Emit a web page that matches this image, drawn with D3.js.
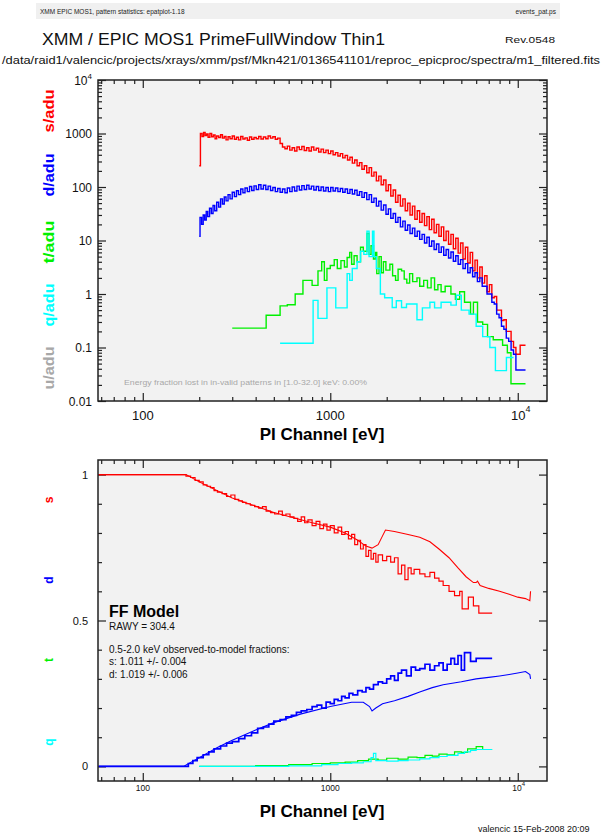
<!DOCTYPE html>
<html>
<head>
<meta charset="utf-8">
<script src="https://cdn.jsdelivr.net/npm/d3@7"></script>
<style>
body { margin: 0; background: #fff; }
svg { display: block; font-family: "Liberation Sans", Arial, sans-serif; }
</style>
</head>
<body>
<script>
// ---- top panel: counts per adu, [energy eV, value] ----
const sTop = [
[200,250],[203,1000],[207,880],[211,1050],[215,920],[219,980],[223,850],[228,1000],[233,870],[238,940],[243,800],[248,900],[254,840],[260,950],[266,820],[272,880],[278,760],[285,870],[292,800],[300,900],[308,780],[316,850],[324,760],[333,880],[342,790],[351,830],[361,750],[371,860],[381,780],[392,840],[403,800],[415,880],[427,790],[440,860],[453,800],[466,900],[480,820],[494,870],[509,780],[524,820],[540,650],[556,560],[573,520],[590,580],[608,490],[626,540],[645,470],[664,560],[684,500],[705,570],[726,480],[748,540],[770,470],[793,560],[817,490],[842,530],[867,450],[893,510],[920,440],[948,490],[976,420],[1005,470],[1035,400],[1066,440],[1098,380],[1131,420],[1165,350],[1200,390],[1236,320],[1273,360],[1311,280],[1350,320],[1390,250],[1432,285],[1475,215],[1519,250],[1565,185],[1612,230],[1660,160],[1710,190],[1761,130],[1814,160],[1868,110],[1924,135],[1982,85],[2041,110],[2102,68],[2165,88],[2230,52],[2297,70],[2366,44],[2437,60],[2510,36],[2585,50],[2663,30],[2743,44],[2825,25],[2910,36],[2997,22],[3087,32],[3180,19],[3275,28],[3373,16],[3474,25],[3578,14],[3686,20],[3796,12],[3910,18],[4028,10],[4148,15],[4273,8.5],[4401,13],[4533,7],[4669,11],[4809,5.8],[4953,9],[5102,4.5],[5255,7.5],[5412,3.8],[5575,6],[5742,2.7],[5914,4.3],[6091,2.0],[6274,3.2],[6462,1.6],[6656,2.2],[6856,1.1],[7062,1.5],[7273,0.85],[7491,0.9],[7716,0.5],[7948,0.5],[8186,0.32],[8432,0.33],[8685,0.2],[8945,0.2],[9214,0.13],[9490,0.1],[9775,0.075],[10300,0.11],[11000,0.11]
]

const dTop = [
[200,12],[202,27],[206,20],[210,30],[214,24],[218,35],[222,28],[227,40],[232,32],[237,45],[242,36],[248,52],[254,42],[260,60],[266,48],[272,65],[278,55],[285,72],[292,60],[300,80],[308,66],[316,85],[324,72],[333,92],[342,78],[351,96],[361,82],[371,102],[381,86],[392,105],[403,90],[415,110],[427,92],[440,108],[453,90],[466,104],[480,86],[494,98],[509,82],[524,94],[540,80],[556,92],[573,78],[590,96],[608,82],[626,100],[645,84],[664,104],[684,88],[705,106],[726,90],[748,108],[770,92],[793,104],[817,88],[842,102],[867,86],[893,100],[920,84],[948,98],[976,82],[1005,98],[1035,84],[1066,96],[1098,82],[1131,94],[1165,80],[1200,92],[1236,76],[1273,90],[1311,74],[1350,87],[1390,70],[1432,82],[1475,64],[1519,78],[1565,58],[1612,72],[1660,52],[1710,62],[1761,44],[1814,54],[1868,37],[1924,46],[1982,31],[2041,39],[2102,26],[2165,32],[2230,22],[2297,27],[2366,18],[2437,23],[2510,15.5],[2585,19.5],[2663,13.5],[2743,17],[2825,12],[2910,15],[2997,10.5],[3087,13],[3180,9],[3275,11.5],[3373,7.8],[3474,9.8],[3578,6.8],[3686,8.6],[3796,6],[3910,7.6],[4028,5.3],[4148,6.8],[4273,4.7],[4401,6.1],[4533,4.1],[4669,5.2],[4809,3.6],[4953,4.4],[5102,3.0],[5255,3.7],[5412,2.5],[5575,3.1],[5742,2.1],[5914,2.5],[6091,1.7],[6274,2.0],[6462,1.4],[6656,1.4],[6856,1.0],[7062,1.0],[7273,0.7],[7491,0.65],[7716,0.42],[7948,0.36],[8186,0.25],[8432,0.22],[8685,0.15],[8945,0.13],[9214,0.09],[9490,0.075],[9775,0.038],[11000,0.038]
]

const tTop = [
[300,0.23],[455,0.4],[540,0.6],[590,0.63],[650,1.0],[715,1.8],[800,1.45],[860,2.7],[900,4.0],[930,1.8],[960,3.0],[1000,3.4],[1050,4.4],[1090,3.0],[1140,4.2],[1190,3.2],[1230,4.8],[1270,6],[1300,3.6],[1340,5.2],[1390,4.0],[1450,7.5],[1500,6.3],[1570,13.5],[1610,5.5],[1650,8],[1700,4.5],[1740,6],[1770,2.4],[1820,5],[1870,2.5],[1920,4],[1980,2.8],[2080,3.6],[2150,2.2],[2230,1.8],[2300,2.9],[2400,2.7],[2480,1.9],[2560,1.6],[2650,2.4],[2750,1.7],[2900,2.0],[3000,1.4],[3150,1.8],[3300,1.3],[3450,2.0],[3600,1.2],[3750,1.5],[3900,1.1],[4100,1.4],[4400,1.0],[4650,0.8],[4900,1.1],[5200,0.7],[5600,0.42],[5800,0.7],[6100,0.3],[6500,0.27],[6900,0.16],[7400,0.14],[8300,0.11],[8800,0.08],[9200,0.021],[11000,0.021]
]

const qTop = [
[540,0.12],[810,0.76],[860,0.35],[960,1.3],[1070,0.55],[1150,0.55],[1230,2.4],[1270,1.8],[1310,3],[1390,4],[1450,6.3],[1510,5.5],[1570,15],[1610,5],[1680,15],[1710,5],[1760,3],[1850,1.0],[1950,0.85],[2140,0.56],[2250,0.75],[2400,0.56],[2550,0.65],[2900,0.33],[3100,0.55],[3400,0.7],[3600,0.55],[3900,0.7],[4400,0.62],[4700,0.95],[5000,0.5],[5500,0.42],[6000,0.25],[6500,0.16],[7100,0.1],[7600,0.037],[8700,0.065],[9500,0.065]
]

// ---- bottom panel: pattern fractions ----
const sObs = [
[58,1.0],[160,1.0],[170,0.995],[180,0.99],[190,0.98],[200,0.975],[210,0.965],[220,0.96],[230,0.955],[240,0.945],[250,0.94],[265,0.935],[280,0.925],[295,0.93],[310,0.915],[325,0.91],[340,0.905],[355,0.9],[375,0.895],[395,0.89],[415,0.885],[435,0.89],[455,0.875],[480,0.87],[505,0.865],[530,0.875],[555,0.86],[580,0.865],[610,0.855],[640,0.85],[670,0.84],[700,0.855],[730,0.835],[760,0.845],[800,0.825],[840,0.84],[880,0.815],[920,0.83],[960,0.81],[1000,0.825],[1050,0.8],[1100,0.82],[1150,0.795],[1200,0.805],[1250,0.78],[1300,0.795],[1350,0.76],[1400,0.775],[1450,0.745],[1500,0.76],[1550,0.72],[1600,0.74],[1650,0.71],[1700,0.73],[1750,0.7],[1800,0.725],[1900,0.705],[2000,0.72],[2100,0.7],[2200,0.715],[2300,0.66],[2400,0.69],[2500,0.64],[2600,0.68],[2700,0.66],[2800,0.675],[3000,0.66],[3200,0.65],[3400,0.665],[3600,0.645],[3800,0.635],[4000,0.62],[4300,0.6],[4600,0.585],[4900,0.6],[5050,0.54],[5300,0.54],[5450,0.58],[5800,0.55],[6200,0.525],[7300,0.525]
]
const sModel = [
[58,1.0],[170,1.0],[200,0.975],[300,0.92],[500,0.87],[800,0.835],[1000,0.82],[1200,0.8],[1400,0.775],[1550,0.755],[1670,0.748],[1800,0.76],[1900,0.79],[1970,0.81],[2200,0.805],[2600,0.795],[3000,0.785],[3400,0.77],[3800,0.745],[4300,0.715],[4800,0.68],[5300,0.65],[5800,0.63],[6000,0.63],[6100,0.635],[6300,0.62],[7000,0.61],[8000,0.6],[9000,0.59],[10000,0.58],[11000,0.575],[11600,0.568],[11700,0.6]
]
const dObs = [
[58,0],[165,0],[175,0.01],[185,0.02],[195,0.03],[210,0.04],[225,0.05],[240,0.06],[260,0.07],[280,0.08],[300,0.085],[325,0.095],[350,0.105],[380,0.115],[410,0.13],[440,0.135],[470,0.145],[500,0.155],[540,0.16],[580,0.17],[620,0.175],[660,0.185],[700,0.19],[750,0.195],[800,0.205],[850,0.21],[900,0.2],[950,0.22],[1000,0.215],[1050,0.23],[1100,0.225],[1150,0.24],[1200,0.235],[1260,0.25],[1320,0.245],[1400,0.26],[1480,0.255],[1550,0.27],[1620,0.265],[1700,0.28],[1800,0.29],[1900,0.285],[2000,0.3],[2100,0.31],[2200,0.295],[2300,0.32],[2400,0.33],[2550,0.31],[2700,0.34],[2850,0.33],[3000,0.335],[3200,0.35],[3400,0.33],[3600,0.345],[3800,0.355],[4000,0.33],[4200,0.35],[4400,0.37],[4600,0.35],[4800,0.38],[5000,0.33],[5200,0.39],[5600,0.36],[6000,0.37],[7300,0.37]
]
const dModel = [
[58,0],[165,0],[200,0.03],[250,0.065],[300,0.09],[400,0.125],[500,0.15],[700,0.18],[1000,0.205],[1300,0.22],[1500,0.22],[1620,0.205],[1670,0.19],[1750,0.2],[1900,0.215],[2200,0.225],[2600,0.24],[3000,0.255],[3500,0.27],[4000,0.28],[5000,0.29],[6000,0.3],[7000,0.305],[8000,0.31],[9000,0.315],[10000,0.32],[11000,0.325],[11600,0.315],[11700,0.3]
]
const tObs = [
[200,0],[400,0.003],[600,0.006],[800,0.01],[1000,0.012],[1200,0.015],[1400,0.02],[1600,0.025],[1800,0.022],[2000,0.028],[2300,0.025],[2600,0.032],[2900,0.03],[3200,0.038],[3500,0.035],[3800,0.042],[4200,0.04],[4600,0.05],[5000,0.048],[5400,0.06],[6000,0.068],[6500,0.058],[7300,0.058]
]
const qObs = [
[200,0],[600,0.002],[900,0.006],[1100,0.01],[1300,0.012],[1500,0.016],[1650,0.03],[1700,0.045],[1750,0.02],[2000,0.018],[2300,0.02],[2600,0.022],[3000,0.026],[3400,0.03],[3800,0.034],[4200,0.038],[4800,0.045],[5200,0.05],[5600,0.055],[6000,0.058],[7300,0.058]
]

const xMajor = [100, 1000, 10000]
const yTopMajor = [0.01, 0.1, 1, 10, 100, 1000, 10000]
const yTopLabels = ['0.01', '0.1', '1', '10', '100', '1000', '']
const yBotMajor = [0, 0.5, 1]
const yBotLabels = ['0', '0.5', '1']

const W = 603, H = 838
const svg = d3.select('body').append('svg').attr('width', W).attr('height', H)

const boxA = {x0: 98, x1: 547, y0: 80, y1: 401}
const boxB = {x0: 98, x1: 547, y0: 460, y1: 781}

const xTop = d3.scaleLog().domain([57.7, 14320]).range([boxA.x0, boxA.x1])
const yTop = d3.scaleLog().domain([0.01, 1e4]).range([boxA.y1, boxA.y0])
const xBot = d3.scaleLog().domain([57.7, 14320]).range([boxB.x0, boxB.x1])
const yBot = d3.scaleLinear().domain([-0.05, 1.05]).range([boxB.y1, boxB.y0])

// ---- header ----
svg.append('rect').attr('x', 36).attr('y', 3).attr('width', 524).attr('height', 16).attr('fill', '#f0f0f0')
svg.append('text').attr('x', 40).attr('y', 13.5).attr('font-size', 6.5).attr('fill', '#222')
    .text('XMM EPIC MOS1, pattern statistics: epatplot-1.18')
svg.append('text').attr('x', 556).attr('y', 13.5).attr('font-size', 6.5).attr('fill', '#222')
    .attr('text-anchor', 'end').text('events_pat.ps')
svg.append('text').attr('x', 42).attr('y', 45).attr('font-size', 17).attr('fill', '#111')
    .attr('textLength', 343).attr('lengthAdjust', 'spacingAndGlyphs')
    .text('XMM / EPIC MOS1 PrimeFullWindow Thin1')
svg.append('text').attr('x', 505).attr('y', 43).attr('font-size', 9).attr('fill', '#111')
    .attr('textLength', 50).attr('lengthAdjust', 'spacingAndGlyphs').text('Rev.0548')
svg.append('text').attr('x', 2).attr('y', 64).attr('font-size', 10).attr('fill', '#111')
    .attr('textLength', 598).attr('lengthAdjust', 'spacingAndGlyphs')
    .text('/data/raid1/valencic/projects/xrays/xmm/psf/Mkn421/0136541101/reproc_epicproc/spectra/m1_filtered.fits')

function panel(box, x, y, yMinor, yMajorVals, clipId) {
    let g = svg.append('g')
    g.append('rect').attr('x', box.x0).attr('y', box.y0)
        .attr('width', box.x1 - box.x0).attr('height', box.y1 - box.y0).attr('fill', '#f2f2f2')

    svg.append('clipPath').attr('id', clipId).append('rect')
        .attr('x', box.x0).attr('y', box.y0).attr('width', box.x1 - box.x0).attr('height', box.y1 - box.y0)

    let xMinor = x.ticks().filter(v => xMajor.indexOf(v) < 0)
    let axes = [
        [d3.axisBottom(x), 0, box.y1, xMinor, xMajor],
        [d3.axisTop(x), 0, box.y0, xMinor, xMajor],
        [d3.axisLeft(y), box.x0, 0, yMinor, yMajorVals],
        [d3.axisRight(y), box.x1, 0, yMinor, yMajorVals]
    ]
    axes.forEach(a => {
        g.append('g').attr('transform', `translate(${a[1]},${a[2]})`)
            .call(a[0].tickValues(a[3]).tickSize(-4).tickFormat(''))
        g.append('g').attr('transform', `translate(${a[1]},${a[2]})`)
            .call(a[0].tickValues(a[4]).tickSize(-8).tickFormat(''))
    })
    g.selectAll('.domain').remove()
    g.selectAll('.tick line').attr('stroke', '#222').attr('stroke-width', 1.2)
    return g
}

function series(g, data, x, y, color, width, curve, clipId) {
    let line = d3.line().x(d => x(d[0])).y(d => y(d[1])).curve(curve)
    g.append('path').attr('d', line(data)).attr('fill', 'none')
        .attr('stroke', color).attr('stroke-width', width)
        .attr('stroke-linejoin', 'miter').attr('clip-path', `url(#${clipId})`)
}

// ---- top panel ----
let gA = panel(boxA, xTop, yTop, yTop.ticks().filter(v => yTopMajor.indexOf(v) < 0), yTopMajor, 'clipA')
series(gA, sTop, xTop, yTop, '#ff0000', 1.4, d3.curveStepAfter, 'clipA')
series(gA, dTop, xTop, yTop, '#0000ff', 1.4, d3.curveStepAfter, 'clipA')
series(gA, tTop, xTop, yTop, '#00f000', 1.4, d3.curveStepAfter, 'clipA')
series(gA, qTop, xTop, yTop, '#00ffff', 1.4, d3.curveStepAfter, 'clipA')
gA.append('rect').attr('x', boxA.x0).attr('y', boxA.y0).attr('width', boxA.x1 - boxA.x0)
    .attr('height', boxA.y1 - boxA.y0).attr('fill', 'none').attr('stroke', '#222').attr('stroke-width', 1.5)

yTopMajor.forEach((v, i) => {
    let t = gA.append('text').attr('x', 92).attr('y', yTop(v) + 4.5).attr('font-size', 12)
        .attr('text-anchor', 'end').attr('fill', '#111')
    if (v === 10000) {
        t.text('10')
        t.append('tspan').attr('font-size', 8).attr('dy', -6).text('4')
    } else {
        t.text(yTopLabels[i])
    }
})
xMajor.forEach(v => {
    let t = gA.append('text').attr('x', xTop(v)).attr('y', 420).attr('font-size', 13)
        .attr('text-anchor', 'middle').attr('fill', '#111')
    if (v === 10000) {
        t.attr('x', xTop(v) + 3).text('10')
        t.append('tspan').attr('font-size', 9).attr('dy', -8).text('4')
    } else {
        t.text(d3.format('d')(v))
    }
})
gA.append('text').attr('x', 322).attr('y', 440).attr('font-size', 17).attr('font-weight', 'bold')
    .attr('text-anchor', 'middle').attr('fill', '#000').text('PI Channel [eV]')
gA.append('text').attr('x', 124).attr('y', 385).attr('font-size', 6.5).attr('fill', '#a8a8a8')
    .attr('textLength', 243).attr('lengthAdjust', 'spacingAndGlyphs')
    .text('Energy fraction lost in in-valid patterns in [1.0-32.0] keV:  0.00%')

const topNames = ['s/adu', 'd/adu', 't/adu', 'q/adu', 'u/adu']
const topColors = ['#ff0000', '#0000ff', '#00f000', '#00ffff', '#a8a8a8']
const topCenters = [111, 175, 242, 305, 368]
topNames.forEach((n, i) => {
    svg.append('text').attr('transform', `translate(54,${topCenters[i]}) rotate(-90)`)
        .attr('text-anchor', 'middle').attr('font-size', 14).attr('font-weight', 'bold')
        .attr('fill', topColors[i]).attr('textLength', 43).attr('lengthAdjust', 'spacingAndGlyphs').text(n)
})

// ---- bottom panel ----
let gB = panel(boxB, xBot, yBot, yBot.ticks(10).filter(v => yBotMajor.indexOf(Math.round(v * 10) / 10) < 0), yBotMajor, 'clipB')
series(gB, sObs, xBot, yBot, '#ff0000', 1.2, d3.curveStepAfter, 'clipB')
series(gB, sModel, xBot, yBot, '#ff0000', 1.1, d3.curveLinear, 'clipB')
series(gB, dObs, xBot, yBot, '#0000ff', 1.7, d3.curveStepAfter, 'clipB')
series(gB, dModel, xBot, yBot, '#0000ff', 1.1, d3.curveLinear, 'clipB')
series(gB, tObs, xBot, yBot, '#00f000', 1.2, d3.curveStepAfter, 'clipB')
series(gB, qObs, xBot, yBot, '#00ffff', 1.2, d3.curveStepAfter, 'clipB')
gB.append('rect').attr('x', boxB.x0).attr('y', boxB.y0).attr('width', boxB.x1 - boxB.x0)
    .attr('height', boxB.y1 - boxB.y0).attr('fill', 'none').attr('stroke', '#222').attr('stroke-width', 1.5)

yBotMajor.forEach((v, i) => {
    gB.append('text').attr('x', 88).attr('y', yBot(v) + 4).attr('font-size', 11)
        .attr('text-anchor', 'end').attr('fill', '#111').text(yBotLabels[i])
})
xMajor.forEach(v => {
    let t = gB.append('text').attr('x', xBot(v)).attr('y', 791).attr('font-size', 8.5)
        .attr('text-anchor', 'middle').attr('fill', '#111')
    if (v === 10000) {
        t.attr('x', xBot(v) + 1).text('10')
        t.append('tspan').attr('font-size', 6).attr('dy', -5).text('4')
    } else {
        t.text(d3.format('d')(v))
    }
})
gB.append('text').attr('x', 322).attr('y', 817).attr('font-size', 17).attr('font-weight', 'bold')
    .attr('text-anchor', 'middle').attr('fill', '#000').text('PI Channel [eV]')

const botNames = ['s', 'd', 't', 'q']
const botColors = ['#ff0000', '#0000ff', '#00f000', '#00ffff']
const botCenters = [500, 580, 660, 742]
botNames.forEach((n, i) => {
    svg.append('text').attr('transform', `translate(53,${botCenters[i]}) rotate(-90)`)
        .attr('text-anchor', 'middle').attr('font-size', 12).attr('font-weight', 'bold')
        .attr('fill', botColors[i]).text(n)
})

// legend block
gB.append('text').attr('x', 109).attr('y', 617).attr('font-size', 16).attr('font-weight', 'bold')
    .attr('fill', '#000').text('FF Model')
const legendLines = ['RAWY = 304.4', '', '0.5-2.0 keV observed-to-model fractions:', 's: 1.011 +/- 0.004', 'd: 1.019 +/- 0.006']
const legendY = [630, 0, 653, 665, 678]
legendLines.forEach((s, i) => {
    if (s === '') return
    gB.append('text').attr('x', 109).attr('y', legendY[i]).attr('font-size', 10)
        .attr('fill', '#111').text(s)
})

// footer
svg.append('text').attr('x', 478).attr('y', 832).attr('font-size', 9).attr('fill', '#111')
    .text('valencic 15-Feb-2008 20:09')
</script>
</body>
</html>
